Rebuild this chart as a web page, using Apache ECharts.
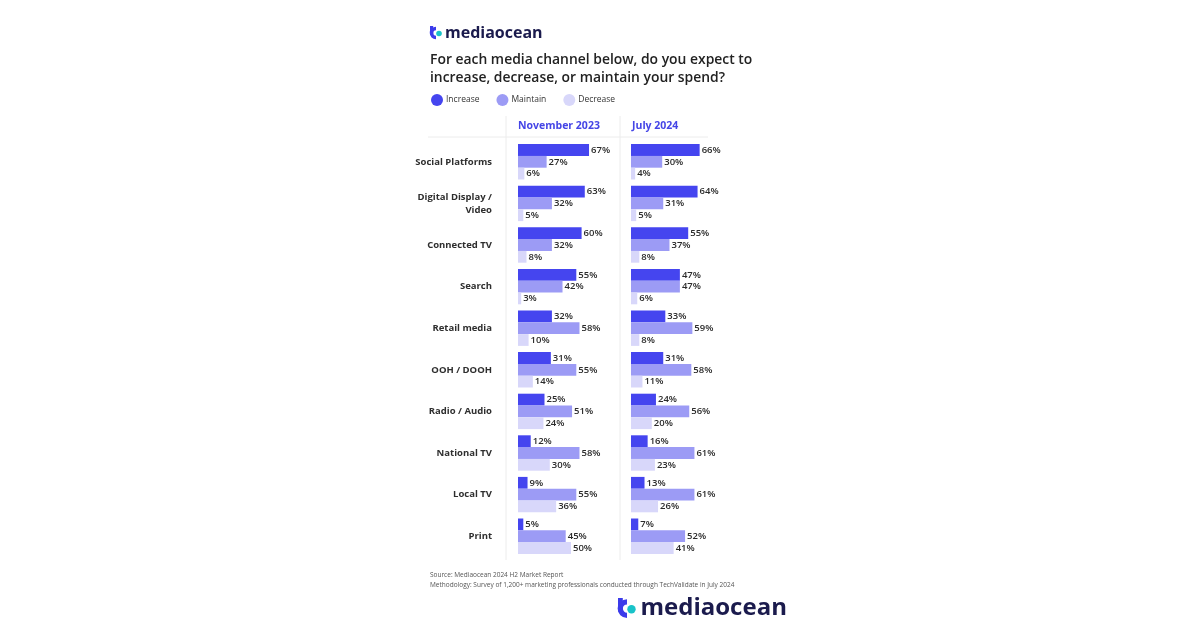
<!DOCTYPE html>
<html>
<head>
<meta charset="utf-8">
<script src="https://cdn.jsdelivr.net/npm/echarts@6/dist/echarts.min.js"></script>
<style>
  html, body { margin: 0; padding: 0; background: #fff; }
  #chart { width: 1200px; height: 628px; }
</style>
</head>
<body>
<div id="chart"></div>
<script>
const canais = ['Social Platforms', 'Digital Display /\nVideo', 'Connected TV', 'Search', 'Retail media',
                'OOH / DOOH', 'Radio / Audio', 'National TV', 'Local TV', 'Print']
const periodos = ['November 2023', 'July 2024']
const respostas = ['Increase', 'Maintain', 'Decrease']

const novIncrease = [67, 63, 60, 55, 32, 31, 25, 12, 9, 5]
const novMaintain = [27, 32, 32, 42, 58, 55, 51, 58, 55, 45]
const novDecrease = [6, 5, 8, 3, 10, 14, 24, 30, 36, 50]

const julIncrease = [66, 64, 55, 47, 33, 31, 24, 16, 13, 7]
const julMaintain = [30, 31, 37, 47, 59, 58, 56, 61, 61, 52]
const julDecrease = [4, 5, 8, 6, 8, 11, 20, 23, 26, 41]

const cores = ['#4545ef', '#9c9bf5', '#d8d7fa']
const fonte = '"Open Sans", "Noto Sans", sans-serif'

function serieBarra(nome, dados, idx, cor){
    return {
        name: nome,
        type: 'bar',
        xAxisIndex: idx,
        yAxisIndex: idx,
        data: dados,
        barWidth: 11.8,
        barGap: '0%',
        itemStyle: { color: cor },
        label: {
            show: true,
            position: 'right',
            distance: 2,
            formatter: '{c}%',
            fontFamily: fonte,
            fontSize: 9.5,
            fontWeight: 600,
            color: '#2b2b2b'
        },
        emphasis: { disabled: true }
    }
}

function eixoCategoria(idx, mostra){
    return {
        type: 'category',
        gridIndex: idx,
        data: canais,
        inverse: true,
        axisLine: { show: false },
        axisTick: { show: false },
        axisLabel: {
            show: mostra,
            margin: 26,
            align: 'right',
            fontFamily: fonte,
            fontSize: 9.5,
            fontWeight: 700,
            lineHeight: 13,
            color: '#2e2e2e'
        }
    }
}

function eixoValor(idx){
    return {
        type: 'value',
        gridIndex: idx,
        min: 0,
        max: 100,
        show: false
    }
}

function logo(x, y, escala){
    return {
        type: 'group',
        x: x,
        y: y,
        scaleX: escala,
        scaleY: escala,
        children: [
            { type: 'arc', shape: { cx: 6, cy: 7, r: 4.5, startAngle: Math.PI * 0.5, endAngle: Math.PI * 1.5, clockwise: true },
              style: { stroke: '#3b3bea', lineWidth: 3.5, fill: null } },
            { type: 'rect', shape: { x: 0, y: 0, width: 3.2, height: 9 }, style: { fill: '#3b3bea' } },
            { type: 'circle', shape: { cx: 9, cy: 7.5, r: 2.8 }, style: { fill: '#19c3c9' } },
            { type: 'text', x: 15, y: 7, style: { text: 'mediaocean', font: '700 16px ' + fonte,
              fill: '#1b1b4d', verticalAlign: 'middle' } }
        ]
    }
}

function fazGrafico(elem){
    let option = {
        animation: false,
        backgroundColor: '#ffffff',
        legend: {
            data: respostas,
            left: 426,
            top: 89,
            icon: 'circle',
            itemWidth: 12,
            itemHeight: 12,
            itemGap: 17,
            selectedMode: false,
            textStyle: { fontFamily: fonte, fontSize: 8.5, color: '#333', padding: [0, 0, 0, -2] }
        },
        grid: [
            { left: 518, top: 141, width: 106, height: 416 },
            { left: 631, top: 141, width: 104, height: 416 }
        ],
        xAxis: [eixoValor(0), eixoValor(1)],
        yAxis: [eixoCategoria(0, true), eixoCategoria(1, false)],
        series: [
            serieBarra(respostas[0], novIncrease, 0, cores[0]),
            serieBarra(respostas[1], novMaintain, 0, cores[1]),
            serieBarra(respostas[2], novDecrease, 0, cores[2]),
            serieBarra(respostas[0], julIncrease, 1, cores[0]),
            serieBarra(respostas[1], julMaintain, 1, cores[1]),
            serieBarra(respostas[2], julDecrease, 1, cores[2])
        ],
        graphic: [
            logo(430, 26, 1),
            { type: 'text', left: 430, top: 51,
              style: { text: 'For each media channel below, do you expect to\nincrease, decrease, or maintain your spend?',
                       font: '600 13.9px ' + fonte, lineHeight: 18, fill: '#222' } },
            { type: 'text', left: 518, top: 121,
              style: { text: periodos[0], font: '700 10.5px ' + fonte, fill: '#4545e6' } },
            { type: 'text', left: 632, top: 121,
              style: { text: periodos[1], font: '700 10.5px ' + fonte, fill: '#4545e6' } },
            { type: 'line', shape: { x1: 428, y1: 137, x2: 708, y2: 137 },
              style: { stroke: '#ececec', lineWidth: 1 } },
            { type: 'line', shape: { x1: 506, y1: 116, x2: 506, y2: 560 },
              style: { stroke: '#ececec', lineWidth: 1 } },
            { type: 'line', shape: { x1: 620, y1: 116, x2: 620, y2: 560 },
              style: { stroke: '#ececec', lineWidth: 1 } },
            { type: 'text', left: 430, top: 572,
              style: { text: 'Source: Mediaocean 2024 H2 Market Report', font: '6.5px ' + fonte, fill: '#555' } },
            { type: 'text', left: 430, top: 582,
              style: { text: 'Methodology: Survey of 1,200+ marketing professionals conducted through TechValidate in July 2024',
                       font: '6.5px ' + fonte, fill: '#555' } },
            logo(618, 598, 1.5)
        ]
    }

    const chart = echarts.init(elem)
    chart.clear()
    chart.setOption(option)
}

const elemGrafico = document.getElementById('chart')
fazGrafico(elemGrafico)
</script>
</body>
</html>
